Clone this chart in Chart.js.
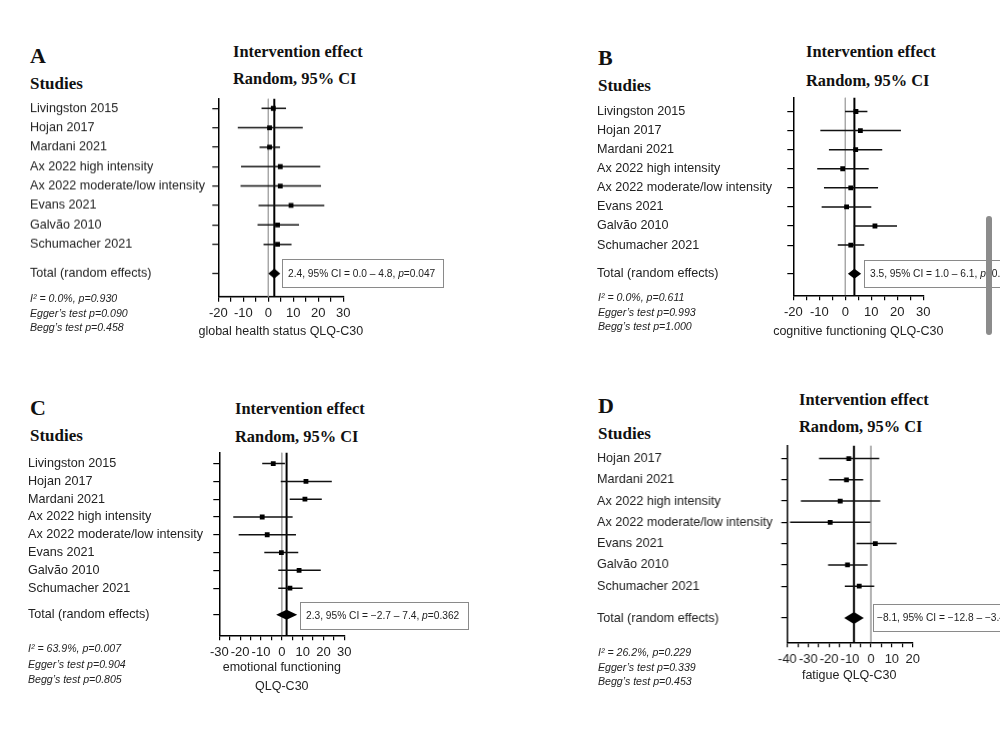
<!DOCTYPE html>
<html>
<head>
<meta charset="utf-8">
<script src="https://cdn.jsdelivr.net/npm/chart.js@4.4.1/dist/chart.umd.min.js"></script>
<style>
  body { margin: 0; width: 1000px; height: 731px; overflow: hidden; background: #fff; position: relative; font-family: "Liberation Sans", Arial, sans-serif; color: #111; }
  .abs { position: absolute; white-space: nowrap; }
  .letter { font: bold 22px "Liberation Serif", serif; line-height: 24px; }
  .head { font: bold 17px "Liberation Serif", serif; line-height: 20px; }
  .eff { font: bold 16.4px "Liberation Serif", serif; line-height: 20px; }
  .stat { font: italic 10.6px "Liberation Sans", sans-serif; line-height: 14px; color: #222; }
  .box { border: 1px solid #8a8a8a; font-size: 10.2px; padding-left: 5px; box-sizing: border-box; color: #222; }
  .xtitle { position: absolute; width: 300px; text-align: center; font-size: 12.5px; line-height: 15px; color: #222; }
  .panel { position: absolute; }
  .scroll { position: absolute; left: 986px; top: 216px; width: 6px; height: 119px; background: #8c8c8c; border-radius: 3px; }
</style>
</head>
<body>

<div class="abs letter" style="left:30px;top:44px">A</div>
<div class="abs head" style="left:30px;top:74px">Studies</div>
<div class="abs eff" style="left:233px;top:42px">Intervention effect</div>
<div class="abs eff" style="left:233px;top:69px">Random, 95% CI</div>

<div class="abs letter" style="left:598px;top:46px">B</div>
<div class="abs head" style="left:598px;top:76px">Studies</div>
<div class="abs eff" style="left:806px;top:42px">Intervention effect</div>
<div class="abs eff" style="left:806px;top:71px">Random, 95% CI</div>

<div class="abs letter" style="left:30px;top:396px">C</div>
<div class="abs head" style="left:30px;top:426px">Studies</div>
<div class="abs eff" style="left:235px;top:399px">Intervention effect</div>
<div class="abs eff" style="left:235px;top:427px">Random, 95% CI</div>

<div class="abs letter" style="left:598px;top:394px">D</div>
<div class="abs head" style="left:598px;top:424px">Studies</div>
<div class="abs eff" style="left:799px;top:390px">Intervention effect</div>
<div class="abs eff" style="left:799px;top:417px">Random, 95% CI</div>

<div class="panel" id="wrapA"><canvas id="chartA"></canvas></div>
<div class="panel" id="wrapB"><canvas id="chartB"></canvas></div>
<div class="panel" id="wrapC"><canvas id="chartC"></canvas></div>
<div class="panel" id="wrapD"><canvas id="chartD"></canvas></div>

<div class="xtitle" id="titleA"></div>
<div class="xtitle" id="titleB"></div>
<div class="xtitle" id="titleC" style="line-height:19px"></div>
<div class="xtitle" id="titleD"></div>

<div class="abs stat" style="left:30px;top:291px">I² = 0.0%, p=0.930</div>
<div class="abs stat" style="left:30px;top:306px">Egger’s test p=0.090</div>
<div class="abs stat" style="left:30px;top:320px">Begg’s test p=0.458</div>

<div class="abs stat" style="left:598px;top:290px">I² = 0.0%, p=0.611</div>
<div class="abs stat" style="left:598px;top:305px">Egger’s test p=0.993</div>
<div class="abs stat" style="left:598px;top:319px">Begg’s test p=1.000</div>

<div class="abs stat" style="left:28px;top:641px">I² = 63.9%, p=0.007</div>
<div class="abs stat" style="left:28px;top:657px">Egger’s test p=0.904</div>
<div class="abs stat" style="left:28px;top:672px">Begg’s test p=0.805</div>

<div class="abs stat" style="left:598px;top:645px">I² = 26.2%, p=0.229</div>
<div class="abs stat" style="left:598px;top:660px">Egger’s test p=0.339</div>
<div class="abs stat" style="left:598px;top:674px">Begg’s test p=0.453</div>

<div class="abs box" style="left:282px;top:259px;width:162px;height:29px;line-height:27px">2.4, 95% CI = 0.0 – 4.8, <i>p</i>=0.047</div>
<div class="abs box" style="left:864px;top:260px;width:160px;height:28px;line-height:26px">3.5, 95% CI = 1.0 – 6.1, <i>p</i>=0.006</div>
<div class="abs box" style="left:300px;top:602px;width:169px;height:28px;line-height:26px">2.3, 95% CI = −2.7 – 7.4, <i>p</i>=0.362</div>
<div class="abs box" style="left:873px;top:604px;width:180px;height:28px;line-height:26px;padding-left:3px">−8.1, 95% CI = −12.8 – −3.4, <i>p</i>=0.001</div>

<div class="scroll"></div>

<script>
// study names per panel
const studiesA = ['Livingston 2015', 'Hojan 2017', 'Mardani 2021', 'Ax 2022 high intensity', 'Ax 2022 moderate/low intensity', 'Evans 2021', 'Galvão 2010', 'Schumacher 2021'];
const studiesB = studiesA;
const studiesC = studiesA;
const studiesD = ['Hojan 2017', 'Mardani 2021', 'Ax 2022 high intensity', 'Ax 2022 moderate/low intensity', 'Evans 2021', 'Galvão 2010', 'Schumacher 2021'];
const totalLabel = 'Total (random effects)';

// A: global health status
const estA = [2.0, 0.5, 0.5, 4.8, 4.8, 9.1, 3.7, 3.7];
const lowA = [-2.7, -12.2, -3.5, -10.9, -11.1, -3.9, -4.3, -1.9];
const highA = [7.1, 13.8, 4.7, 20.8, 21.1, 22.4, 12.3, 9.3];
const pooledA = [2.4, 0.0, 4.8];

// B: cognitive functioning
const estB = [4.1, 5.8, 4.0, -1.0, 2.1, 0.5, 11.4, 2.1];
const lowB = [-0.1, -9.6, -6.3, -10.8, -8.2, -9.1, 3.3, -2.9];
const highB = [8.5, 21.4, 14.2, 9.0, 12.6, 10.0, 19.9, 7.3];
const pooledB = [3.5, 1.0, 6.1];

// C: emotional functioning
const estC = [-4.1, 11.6, 11.1, -9.4, -7.0, -0.2, 8.3, 3.9];
const lowC = [-9.4, -0.5, 3.8, -23.3, -20.7, -8.4, -1.7, -1.7];
const highC = [1.5, 24.0, 19.2, 5.2, 6.8, 7.9, 18.7, 10.0];
const pooledC = [2.3, -2.7, 7.4];

// D: fatigue
const estD = [-10.6, -11.7, -14.7, -19.5, 2.1, -11.2, -5.6];
const lowD = [-24.8, -20.0, -33.5, -38.7, -6.9, -20.5, -12.5];
const highD = [4.0, -3.7, 4.5, -0.3, 12.3, -1.6, 1.6];
const pooledD = [-8.1, -12.8, -3.4];

// x axis ranges (ticks every 5, labels every 10)
const xRangeA = [-20, 30];
const xRangeB = [-20, 30];
const xRangeC = [-30, 30];
const xRangeD = [-40, 20];

// layout of each panel (pixels on the page)
const layouts = {
    A: { left: 30, areaLeft: 218.3, areaRight: 343.3, areaTop: 98, areaBottom: 295.7, titleY: 332, yMin: -0.5, yMax: 9.69, diamondH: 5 },
    B: { left: 597, areaLeft: 793.3, areaRight: 923.3, areaTop: 96.7, areaBottom: 295, titleY: 332, yMin: -0.73, yMax: 9.63, diamondH: 5 },
    C: { left: 28, areaLeft: 219.3, areaRight: 344.3, areaTop: 451.7, areaBottom: 635, titleY: 666, yMin: -0.62, yMax: 9.65, diamondH: 5 },
    D: { left: 597, areaLeft: 786.7, areaRight: 911.7, areaTop: 445, areaBottom: 642.3, titleY: 676, yMin: -0.61, yMax: 8.64, diamondH: 6 }
};

const diamondPlugin = {
    id: 'diamond',
    afterDatasetsDraw(chart, args, opts) {
        const xs = chart.scales.x, ys = chart.scales.y;
        const [est, lo, hi] = opts.pooled;
        const cy = ys.getPixelForValue(opts.row);
        const ctx = chart.ctx;
        ctx.save();
        ctx.fillStyle = '#000';
        ctx.beginPath();
        ctx.moveTo(xs.getPixelForValue(lo), cy);
        ctx.lineTo(xs.getPixelForValue(est), cy - opts.h);
        ctx.lineTo(xs.getPixelForValue(hi), cy);
        ctx.lineTo(xs.getPixelForValue(est), cy + opts.h);
        ctx.closePath();
        ctx.fill();
        ctx.restore();
    }
};

function renderForest(key, studies, est, low, high, pooled, xRange, axisTitle) {
    const L = layouts[key];
    const padTop = 10, padRight = 12;
    const axisH = 30;
    const top = L.areaTop - padTop;
    const wrap = document.getElementById('wrap' + key);
    wrap.style.left = L.left + 'px';
    wrap.style.top = top + 'px';
    wrap.style.width = (L.areaRight - L.left + padRight) + 'px';
    wrap.style.height = (L.areaBottom - top + axisH) + 'px';

    // axis title as page text, centred under the plot area
    const t = document.getElementById('title' + key);
    t.innerHTML = axisTitle.join('<br>');
    t.style.left = ((L.areaLeft + L.areaRight) / 2 - 150) + 'px';
    t.style.top = (L.titleY - 8) + 'px';

    const rows = studies.map((s, i) => i);
    const totalRow = studies.length + 0.5;
    const tickRows = rows.concat([totalRow]);
    const tickNames = studies.concat([totalLabel]);

    const datasets = [];
    datasets.push({
        data: est.map((v, i) => ({ x: v, y: i })),
        pointStyle: 'rect', pointRadius: 3.4, backgroundColor: '#000', borderWidth: 0
    });
    studies.forEach((s, i) => {
        datasets.push({
            data: [{ x: low[i], y: i }, { x: high[i], y: i }],
            showLine: true, borderColor: '#111', borderWidth: 1.5, pointRadius: 0
        });
    });
    datasets.push({
        data: [{ x: pooled[0], y: L.yMin }, { x: pooled[0], y: L.yMax }],
        showLine: true, borderColor: '#000', borderWidth: 2, pointRadius: 0
    });
    datasets.push({
        data: [{ x: 0, y: L.yMin }, { x: 0, y: L.yMax }],
        showLine: true, borderColor: '#a8a8a8', borderWidth: 1, pointRadius: 0
    });

    new Chart(document.getElementById('chart' + key), {
        type: 'scatter',
        data: { datasets },
        plugins: [diamondPlugin],
        options: {
            responsive: true, maintainAspectRatio: false, animation: false,
            layout: { padding: { left: 0, top: padTop, right: padRight, bottom: 0 } },
            plugins: {
                legend: { display: false }, tooltip: { enabled: false },
                diamond: { pooled, row: totalRow, h: L.diamondH }
            },
            scales: {
                x: {
                    type: 'linear', min: xRange[0], max: xRange[1],
                    afterFit: s => { s.height = axisH; },
                    ticks: {
                        stepSize: 5, autoSkip: false, maxRotation: 0, padding: 4,
                        color: '#222', font: { family: 'Liberation Sans', size: 13 },
                        callback: v => (v % 10 === 0 ? String(v) : '')
                    },
                    grid: { drawOnChartArea: false, tickLength: 5, color: '#000', lineWidth: 1.2 },
                    border: { color: '#000', width: 1.5 }
                },
                y: {
                    type: 'linear', reverse: true, min: L.yMin, max: L.yMax,
                    afterFit: s => { s.width = L.areaLeft - L.left; },
                    afterBuildTicks: s => { s.ticks = tickRows.map(v => ({ value: v })); },
                    ticks: {
                        crossAlign: 'far', autoSkip: false, color: '#222',
                        font: { family: 'Liberation Sans', size: 12.6 },
                        callback: (v, i) => tickNames[i]
                    },
                    grid: { drawOnChartArea: false, tickLength: 6, color: '#000', lineWidth: 1.2 },
                    border: { color: '#000', width: 1.5 }
                }
            }
        }
    });
}

renderForest('A', studiesA, estA, lowA, highA, pooledA, xRangeA, ['global health status QLQ-C30']);
renderForest('B', studiesB, estB, lowB, highB, pooledB, xRangeB, ['cognitive functioning QLQ-C30']);
renderForest('C', studiesC, estC, lowC, highC, pooledC, xRangeC, ['emotional functioning', 'QLQ-C30']);
renderForest('D', studiesD, estD, lowD, highD, pooledD, xRangeD, ['fatigue QLQ-C30']);
</script>
</body>
</html>
